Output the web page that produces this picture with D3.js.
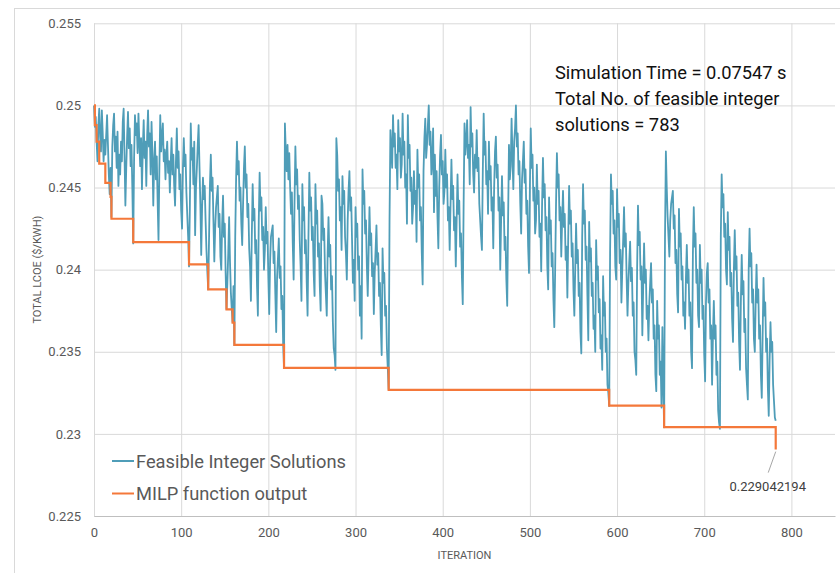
<!DOCTYPE html>
<html>
<head>
<meta charset="utf-8">
<script src="https://cdn.jsdelivr.net/npm/d3@7"></script>
<style>
  body { margin: 0; background: #fff; }
  svg { display: block; font-family: Roboto, "Open Sans", sans-serif; }
</style>
</head>
<body>
<div id="chart"></div>
<script>
// feasible integer solutions, [iteration, total LCOE]
const feasible = [
[0,0.2500],[1,0.2487],[2,0.2493],[3,0.2478],[4,0.2466],[5,0.2488],[6,0.2498],[7,0.2481],[8,0.2472],[9,0.2497],
[10,0.2483],[11,0.2466],[12,0.2479],[13,0.2470],[15,0.2494],[16,0.2476],[17,0.2458],[18,0.2446],[19,0.2462],[20,0.2432],
[21,0.2475],[22,0.2488],[23,0.2495],[24,0.2472],[25,0.2481],[26,0.2462],[27,0.2484],[28,0.2451],[29,0.2470],[30,0.2458],
[31,0.2478],[32,0.2466],[33,0.2490],[34,0.2498],[35,0.2470],[36,0.2439],[37,0.2462],[38,0.2481],[39,0.2496],[40,0.2474],
[41,0.2486],[42,0.2463],[43,0.2476],[44,0.2449],[45,0.2416],[46,0.2468],[47,0.2494],[48,0.2482],[49,0.2489],[50,0.2471],
[51,0.2495],[52,0.2478],[53,0.2463],[54,0.2480],[55,0.2449],[56,0.2474],[57,0.2491],[58,0.2468],[59,0.2478],[60,0.2451],
[61,0.2482],[62,0.2497],[63,0.2475],[64,0.2483],[65,0.2458],[66,0.2490],[67,0.2470],[68,0.2439],[69,0.2466],[70,0.2478],
[71,0.2455],[72,0.2469],[73,0.2441],[74,0.2418],[75,0.2462],[76,0.2494],[77,0.2472],[78,0.2481],[79,0.2489],[80,0.2466],
[81,0.2473],[82,0.2455],[83,0.2470],[84,0.2478],[85,0.2459],[86,0.2466],[87,0.2447],[88,0.2465],[89,0.2480],[90,0.2458],
[91,0.2470],[92,0.2451],[93,0.2439],[94,0.2466],[95,0.2486],[96,0.2462],[97,0.2472],[98,0.2449],[99,0.2458],[100,0.2436],
[101,0.2425],[102,0.2462],[103,0.2480],[104,0.2463],[105,0.2470],[106,0.2447],[107,0.2433],[108,0.2420],[109,0.2402],[110,0.2440],
[111,0.2489],[112,0.2467],[113,0.2474],[114,0.2452],[115,0.2478],[116,0.2421],[117,0.2450],[118,0.2462],[119,0.2476],[120,0.2488],
[121,0.2463],[122,0.2440],[123,0.2409],[124,0.2438],[125,0.2456],[126,0.2443],[127,0.2451],[128,0.2430],[129,0.2412],[130,0.2399],
[131,0.2388],[132,0.2420],[133,0.2452],[134,0.2470],[135,0.2448],[136,0.2456],[137,0.2430],[138,0.2405],[139,0.2425],[140,0.2438],
[142,0.2451],[143,0.2426],[144,0.2434],[145,0.2408],[146,0.2400],[147,0.2428],[148,0.2445],[149,0.2420],[150,0.2428],[151,0.2398],
[152,0.2376],[153,0.2392],[154,0.2410],[155,0.2432],[156,0.2405],[157,0.2386],[158,0.2376],[159,0.2368],[160,0.2390],[161,0.2354],
[162,0.2420],[163,0.2455],[164,0.2478],[165,0.2458],[166,0.2466],[167,0.2442],[168,0.2450],[169,0.2428],[170,0.2415],[171,0.2440],
[172,0.2462],[173,0.2475],[174,0.2450],[175,0.2458],[176,0.2432],[177,0.2440],[178,0.2413],[179,0.2402],[180,0.2381],[181,0.2420],
[182,0.2452],[183,0.2430],[184,0.2437],[185,0.2410],[186,0.2418],[187,0.2390],[188,0.2372],[189,0.2430],[190,0.2459],[191,0.2436],
[192,0.2444],[193,0.2418],[194,0.2426],[195,0.2400],[196,0.2412],[197,0.2438],[198,0.2416],[199,0.2423],[200,0.2395],[201,0.2373],
[202,0.2405],[203,0.2420],[205,0.2427],[206,0.2404],[207,0.2411],[208,0.2385],[209,0.2362],[210,0.2395],[212,0.2419],[213,0.2395],
[214,0.2402],[215,0.2376],[216,0.2384],[217,0.2354],[218,0.2340],
[219,0.2489],[220,0.2472],[221,0.2460],[222,0.2476],[223,0.2455],[224,0.2471],[225,0.2450],[226,0.2434],[227,0.2447],[228,0.2416],
[229,0.2394],[230,0.2440],[231,0.2475],[232,0.2452],[233,0.2461],[234,0.2437],[235,0.2445],[236,0.2418],[237,0.2402],[238,0.2381],
[239,0.2452],[240,0.2430],[241,0.2438],[242,0.2410],[243,0.2418],[244,0.2392],[245,0.2372],[246,0.2420],[247,0.2459],[248,0.2436],
[249,0.2444],[250,0.2418],[251,0.2426],[252,0.2398],[253,0.2384],[254,0.2452],[255,0.2428],[256,0.2436],[257,0.2408],[258,0.2416],
[259,0.2390],[260,0.2375],[261,0.2445],[262,0.2440],[263,0.2418],[264,0.2425],[265,0.2398],[266,0.2385],[267,0.2372],[268,0.2410],
[269,0.2432],[270,0.2408],[271,0.2415],[272,0.2388],[273,0.2396],[274,0.2368],[275,0.2352],[276,0.2348],[277,0.2339],
[278,0.2480],[279,0.2470],[280,0.2448],[281,0.2455],[282,0.2430],[283,0.2438],[284,0.2412],[285,0.2457],[286,0.2440],[287,0.2448],
[288,0.2420],[289,0.2410],[290,0.2394],[291,0.2430],[292,0.2448],[293,0.2460],[294,0.2436],[295,0.2444],[296,0.2418],[297,0.2392],
[298,0.2406],[299,0.2381],[300,0.2438],[301,0.2420],[302,0.2428],[303,0.2400],[304,0.2408],[305,0.2372],[306,0.2390],[307,0.2358],
[308,0.2461],[309,0.2440],[310,0.2448],[311,0.2422],[312,0.2430],[313,0.2402],[314,0.2384],[315,0.2410],[316,0.2438],[317,0.2415],
[318,0.2422],[319,0.2396],[320,0.2404],[321,0.2373],[322,0.2398],[323,0.2412],[324,0.2427],[325,0.2403],[326,0.2410],[327,0.2384],
[328,0.2392],[329,0.2366],[330,0.2348],[331,0.2413],[332,0.2392],[333,0.2398],[334,0.2372],[335,0.2378],[336,0.2352],[337,0.2340],
[338,0.2327],
[339,0.2430],[340,0.2485],[341,0.2474],[342,0.2462],[343,0.2494],[344,0.2475],[345,0.2483],[346,0.2462],[347,0.2470],[348,0.2449],
[349,0.2491],[350,0.2472],[351,0.2480],[352,0.2456],[353,0.2464],[354,0.2495],[355,0.2470],[356,0.2478],[357,0.2450],[358,0.2458],
[359,0.2428],[360,0.2494],[361,0.2468],[362,0.2476],[363,0.2448],[364,0.2456],[365,0.2428],[366,0.2438],[367,0.2460],[368,0.2440],
[369,0.2448],[370,0.2417],[371,0.2473],[372,0.2450],[373,0.2458],[374,0.2430],[375,0.2438],[376,0.2410],[377,0.2391],[378,0.2460],
[379,0.2480],[380,0.2492],[381,0.2468],[382,0.2476],[383,0.2488],[384,0.2500],[385,0.2476],[386,0.2484],[387,0.2458],[388,0.2466],
[389,0.2486],[390,0.2435],[391,0.2470],[392,0.2445],[393,0.2460],[394,0.2432],[395,0.2413],[396,0.2450],[397,0.2470],[398,0.2482],
[399,0.2458],[400,0.2466],[401,0.2440],[402,0.2448],[403,0.2473],[404,0.2450],[405,0.2458],[406,0.2430],[407,0.2438],[408,0.2412],
[409,0.2440],[410,0.2467],[411,0.2443],[412,0.2451],[413,0.2424],[414,0.2432],[415,0.2402],[416,0.2430],[417,0.2458],[418,0.2434],
[419,0.2442],[420,0.2414],[421,0.2422],[422,0.2396],[423,0.2379],[424,0.2440],[425,0.2489],[426,0.2470],[427,0.2478],[428,0.2491],
[429,0.2468],[430,0.2476],[431,0.2452],[432,0.2499],[433,0.2475],[434,0.2483],[435,0.2458],[436,0.2447],[437,0.2470],[438,0.2462],
[439,0.2485],[440,0.2460],[441,0.2468],[442,0.2440],[443,0.2430],[444,0.2420],[445,0.2412],[446,0.2460],[447,0.2495],[448,0.2470],
[449,0.2478],[450,0.2452],[451,0.2460],[452,0.2434],[453,0.2478],[454,0.2455],[455,0.2463],[456,0.2436],[457,0.2444],[458,0.2413],
[459,0.2450],[460,0.2472],[461,0.2481],[462,0.2456],[463,0.2464],[464,0.2436],[465,0.2444],[466,0.2400],[467,0.2430],[468,0.2457],
[469,0.2433],[470,0.2441],[471,0.2412],[472,0.2420],[473,0.2394],[474,0.2378],[475,0.2430],[476,0.2476],[477,0.2455],[478,0.2463],
[479,0.2492],[480,0.2470],[481,0.2449],[482,0.2478],[483,0.2486],[484,0.2500],[485,0.2475],[486,0.2483],[487,0.2458],[488,0.2466],
[489,0.2440],[490,0.2422],[491,0.2455],[492,0.2466],[493,0.2478],[494,0.2453],[495,0.2461],[496,0.2434],[497,0.2442],[498,0.2414],
[499,0.2398],[500,0.2450],[501,0.2486],[502,0.2462],[503,0.2470],[504,0.2442],[505,0.2450],[506,0.2422],[507,0.2430],[508,0.2464],
[509,0.2440],[510,0.2448],[511,0.2420],[512,0.2428],[513,0.2399],[514,0.2440],[515,0.2468],[516,0.2444],[517,0.2452],[518,0.2424],
[519,0.2432],[520,0.2402],[521,0.2388],[522,0.2444],[523,0.2422],[524,0.2430],[525,0.2402],[526,0.2410],[527,0.2382],[528,0.2365],
[529,0.2400],[530,0.2440],[531,0.2471],[532,0.2450],[533,0.2458],[534,0.2430],[535,0.2438],[536,0.2408],[537,0.2430],[538,0.2448],
[539,0.2426],[540,0.2434],[541,0.2406],[542,0.2414],[543,0.2383],[544,0.2420],[545,0.2451],[546,0.2428],[547,0.2436],[548,0.2408],
[549,0.2416],[550,0.2388],[551,0.2372],[552,0.2400],[553,0.2428],[554,0.2404],[555,0.2412],[556,0.2384],[557,0.2392],[558,0.2362],
[559,0.2349],[560,0.2420],[561,0.2452],[562,0.2428],[563,0.2436],[564,0.2406],[565,0.2414],[566,0.2384],[567,0.2357],[568,0.2429],
[569,0.2405],[570,0.2413],[571,0.2384],[572,0.2392],[573,0.2364],[574,0.2372],[575,0.2350],[576,0.2418],[577,0.2394],[578,0.2402],
[579,0.2374],[580,0.2382],[581,0.2352],[582,0.2360],[583,0.2339],[584,0.2396],[585,0.2372],[586,0.2380],[587,0.2350],[588,0.2358],
[589,0.2330],[590,0.2325],[591,0.2317],
[592,0.2410],[593,0.2458],[594,0.2440],[595,0.2448],[596,0.2422],[597,0.2430],[598,0.2402],[599,0.2394],[600,0.2449],[601,0.2426],
[602,0.2434],[603,0.2404],[604,0.2412],[605,0.2380],[606,0.2400],[607,0.2418],[608,0.2438],[609,0.2414],[610,0.2422],[611,0.2394],
[612,0.2372],[613,0.2392],[614,0.2405],[615,0.2417],[616,0.2393],[617,0.2401],[618,0.2372],[619,0.2380],[620,0.2350],[621,0.2345],
[622,0.2336],[623,0.2400],[624,0.2439],[625,0.2415],[626,0.2423],[627,0.2394],[628,0.2402],[629,0.2360],[630,0.2390],[631,0.2416],
[632,0.2392],[633,0.2400],[634,0.2370],[635,0.2378],[636,0.2357],[637,0.2380],[638,0.2392],[639,0.2404],[640,0.2380],[641,0.2388],
[642,0.2358],[643,0.2366],[644,0.2336],[645,0.2326],[646,0.2381],[647,0.2358],[648,0.2366],[649,0.2336],[650,0.2344],[651,0.2316],
[652,0.2365],[653,0.2330],[654,0.2304],
[655,0.2420],[656,0.2472],[657,0.2450],[658,0.2432],[659,0.2420],[660,0.2408],[661,0.2430],[662,0.2440],[664,0.2448],[665,0.2425],
[666,0.2433],[667,0.2404],[668,0.2412],[669,0.2385],[670,0.2374],[671,0.2437],[672,0.2414],[673,0.2422],[674,0.2394],[675,0.2402],
[676,0.2372],[677,0.2380],[678,0.2364],[679,0.2395],[680,0.2415],[681,0.2392],[682,0.2400],[683,0.2372],[684,0.2380],[685,0.2350],
[686,0.2340],[687,0.2410],[688,0.2438],[689,0.2414],[690,0.2422],[691,0.2392],[692,0.2400],[693,0.2372],[694,0.2365],[695,0.2415],
[696,0.2392],[697,0.2400],[698,0.2370],[699,0.2378],[700,0.2348],[701,0.2332],[702,0.2380],[703,0.2398],[704,0.2404],[705,0.2380],
[706,0.2388],[707,0.2358],[708,0.2366],[709,0.2330],[710,0.2360],[711,0.2381],[712,0.2358],[713,0.2366],[714,0.2336],[715,0.2344],
[716,0.2314],[717,0.2307],[718,0.2303],
[719,0.2420],[720,0.2458],[721,0.2438],[722,0.2446],[723,0.2420],[724,0.2428],[725,0.2400],[726,0.2391],[727,0.2435],[728,0.2412],
[729,0.2420],[730,0.2390],[731,0.2398],[732,0.2370],[733,0.2356],[734,0.2400],[735,0.2424],[736,0.2400],[737,0.2408],[738,0.2378],
[739,0.2386],[740,0.2356],[741,0.2339],[742,0.2380],[743,0.2409],[744,0.2385],[745,0.2393],[746,0.2362],[747,0.2370],[748,0.2340],
[749,0.2330],[750,0.2321],[751,0.2400],[752,0.2425],[753,0.2402],[754,0.2410],[755,0.2380],[756,0.2388],[757,0.2358],[758,0.2350],
[759,0.2380],[760,0.2403],[761,0.2380],[762,0.2388],[763,0.2358],[764,0.2366],[765,0.2336],[766,0.2322],[767,0.2360],[768,0.2395],
[769,0.2372],[770,0.2380],[771,0.2350],[772,0.2358],[773,0.2328],[774,0.2311],[775,0.2345],[776,0.2368],[777,0.2350],[778,0.2356],
[779,0.2330],[780,0.2320],[781,0.2310],[782,0.2308]
];

// MILP function output (best so far), step points
const milpIter  = [0, 1, 3, 6, 13, 19, 20, 45, 109, 131, 152, 159, 161, 218, 338, 591, 654, 782];
const milpValue = [0.2500, 0.2488, 0.2478, 0.24646, 0.24528, 0.24443, 0.2431, 0.24168, 0.24032, 0.2388,
                   0.23758, 0.23677, 0.23542, 0.23402, 0.23268, 0.23172, 0.23041, 0.229042194];

const xTicks = [0, 100, 200, 300, 400, 500, 600, 700, 800];
const yTicks = [0.225, 0.23, 0.235, 0.24, 0.245, 0.25, 0.255];
const seriesNames = ["Feasible Integer Solutions", "MILP function output"];
const noteLines = ["Simulation Time = 0.07547 s", "Total No. of feasible integer", "solutions = 783"];
const finalLabel = "0.229042194";

const W = 840, H = 573;
const plotL = 94, plotR = 835, plotT = 23.3, plotB = 516;
const blue = "#4f9db8", orange = "#f4783a", grid = "#d9d9d9", textGray = "#595959";

const svg = d3.select("#chart").append("svg").attr("width", W).attr("height", H);

// chart frame
svg.append("rect")
  .attr("x", 14.5).attr("y", 8.5).attr("width", 900).attr("height", 700)
  .attr("fill", "#fff").attr("stroke", grid);

const x = d3.scaleLinear().domain([0, 850]).range([plotL, plotR]);
const y = d3.scaleLinear().domain([0.225, 0.255]).range([plotB, plotT]);

// gridlines
svg.append("g")
  .attr("transform", `translate(0,${plotB})`)
  .call(d3.axisBottom(x).tickValues(xTicks).tickSize(-(plotB - plotT)).tickFormat(""))
  .call(g => g.select(".domain").remove())
  .call(g => g.selectAll("line").attr("stroke", grid));
svg.append("g")
  .attr("transform", `translate(${plotL},0)`)
  .call(d3.axisLeft(y).tickValues(yTicks).tickSize(-(plotR - plotL)).tickFormat(""))
  .call(g => g.select(".domain").remove())
  .call(g => g.selectAll("line").attr("stroke", grid));

// tick labels
svg.append("g")
  .attr("transform", `translate(0,${plotB})`)
  .call(d3.axisBottom(x).tickValues(xTicks).tickSize(0).tickPadding(12).tickFormat(d3.format("d")))
  .call(g => g.select(".domain").attr("stroke", "#bfbfbf"))
  .call(g => g.selectAll("text").attr("fill", textGray).style("font-size", "13px")
    .style("font-family", "Roboto, sans-serif"));
svg.append("g")
  .attr("transform", `translate(${plotL},0)`)
  .call(d3.axisLeft(y).tickValues(yTicks).tickSize(0).tickPadding(13).tickFormat(d => String(+d.toFixed(3))))
  .call(g => g.select(".domain").remove())
  .call(g => g.selectAll("text").attr("fill", textGray).style("font-size", "13px")
    .style("font-family", "Roboto, sans-serif"));

// axis titles
svg.append("text")
  .attr("x", (plotL + plotR) / 2).attr("y", 559)
  .attr("text-anchor", "middle").attr("fill", textGray)
  .style("font-size", "11px").text("ITERATION");
svg.append("text")
  .attr("transform", `translate(41,${(plotT + plotB) / 2}) rotate(-90)`)
  .attr("text-anchor", "middle").attr("fill", textGray)
  .style("font-size", "11px").text("TOTAL LCOE ($/KWH)");

// series
const line = d3.line().x(d => x(d[0])).y(d => y(d[1]));
svg.append("path")
  .datum(feasible)
  .attr("d", line)
  .attr("fill", "none").attr("stroke", blue).attr("stroke-width", 1.8)
  .attr("stroke-linejoin", "round");

const milp = milpIter.map((it, i) => [it, milpValue[i]]);
svg.append("path")
  .datum(milp)
  .attr("d", line.curve(d3.curveStepAfter))
  .attr("fill", "none").attr("stroke", orange).attr("stroke-width", 2.2);

// final value callout
const last = milp[milp.length - 1];
svg.append("line")
  .attr("x1", x(last[0])).attr("y1", y(last[1]) + 2)
  .attr("x2", x(last[0]) - 7.5).attr("y2", y(last[1]) + 23)
  .attr("stroke", "#a6a6a6").attr("stroke-width", 1);
svg.append("text")
  .attr("x", x(last[0]) - 8).attr("y", y(last[1]) + 41)
  .attr("text-anchor", "middle").attr("fill", "#404040")
  .style("font-size", "13px").text(finalLabel);

// legend
const legend = svg.append("g");
seriesNames.forEach((name, i) => {
  const ly = 461 + i * 32.5;
  legend.append("line")
    .attr("x1", 112).attr("x2", 134).attr("y1", ly).attr("y2", ly)
    .attr("stroke", i === 0 ? blue : orange).attr("stroke-width", 2);
  legend.append("text")
    .attr("x", 136).attr("y", ly + 6.5)
    .attr("fill", textGray).style("font-size", "18.3px").text(name);
});

// simulation note
svg.append("g").selectAll("text")
  .data(noteLines)
  .join("text")
  .attr("x", 555).attr("y", (d, i) => 78.5 + i * 26)
  .attr("fill", "#111").style("font-size", "18.3px")
  .text(d => d);
</script>
</body>
</html>
